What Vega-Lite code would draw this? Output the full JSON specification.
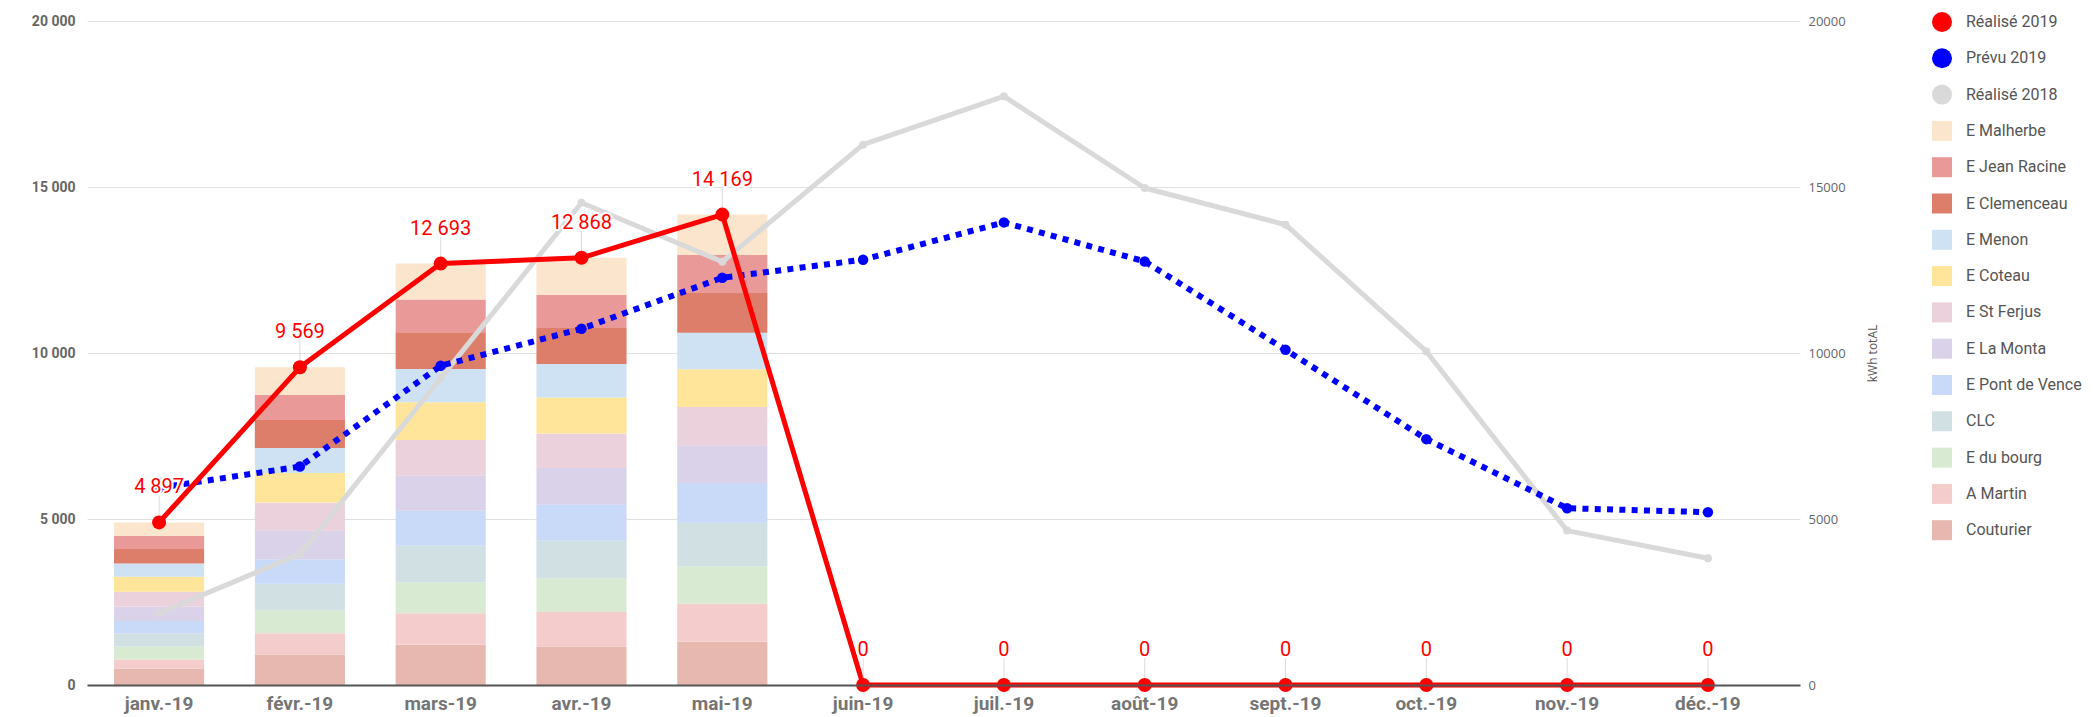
{
  "$schema": "https://vega.github.io/schema/vega-lite/v6.json",
  "width": 1713,
  "height": 664,
  "autosize": {"type": "none"},
  "padding": {"left": 87, "top": 21, "right": 293, "bottom": 32},
  "background": "white",
  "config": {
    "font": "Roboto",
    "view": {"stroke": null},
    "locale": {"number": {"decimal": ",", "thousands": "\u00a0", "grouping": [3], "currency": ["", "\u00a0€"]}},
    "axis": {"ticks": false, "domain": false}
  },
  "datasets": {
    "barres": [
      {"mois": "janv.-19", "serie": "Couturier", "rang": 1, "valeur": 500},
      {"mois": "janv.-19", "serie": "A Martin", "rang": 2, "valeur": 269},
      {"mois": "janv.-19", "serie": "E du bourg", "rang": 3, "valeur": 392},
      {"mois": "janv.-19", "serie": "CLC", "rang": 4, "valeur": 392},
      {"mois": "janv.-19", "serie": "E Pont de Vence", "rang": 5, "valeur": 372},
      {"mois": "janv.-19", "serie": "E La Monta", "rang": 6, "valeur": 442},
      {"mois": "janv.-19", "serie": "E St Ferjus", "rang": 7, "valeur": 442},
      {"mois": "janv.-19", "serie": "E Coteau", "rang": 8, "valeur": 452},
      {"mois": "janv.-19", "serie": "E Menon", "rang": 9, "valeur": 402},
      {"mois": "janv.-19", "serie": "E Clemenceau", "rang": 10, "valeur": 432},
      {"mois": "janv.-19", "serie": "E Jean Racine", "rang": 11, "valeur": 402},
      {"mois": "janv.-19", "serie": "E Malherbe", "rang": 12, "valeur": 400},
      {"mois": "févr.-19", "serie": "Couturier", "rang": 1, "valeur": 917},
      {"mois": "févr.-19", "serie": "A Martin", "rang": 2, "valeur": 643},
      {"mois": "févr.-19", "serie": "E du bourg", "rang": 3, "valeur": 693},
      {"mois": "févr.-19", "serie": "CLC", "rang": 4, "valeur": 794},
      {"mois": "févr.-19", "serie": "E Pont de Vence", "rang": 5, "valeur": 744},
      {"mois": "févr.-19", "serie": "E La Monta", "rang": 6, "valeur": 854},
      {"mois": "févr.-19", "serie": "E St Ferjus", "rang": 7, "valeur": 854},
      {"mois": "févr.-19", "serie": "E Coteau", "rang": 8, "valeur": 884},
      {"mois": "févr.-19", "serie": "E Menon", "rang": 9, "valeur": 754},
      {"mois": "févr.-19", "serie": "E Clemenceau", "rang": 10, "valeur": 844},
      {"mois": "févr.-19", "serie": "E Jean Racine", "rang": 11, "valeur": 754},
      {"mois": "févr.-19", "serie": "E Malherbe", "rang": 12, "valeur": 834},
      {"mois": "mars-19", "serie": "Couturier", "rang": 1, "valeur": 1216},
      {"mois": "mars-19", "serie": "A Martin", "rang": 2, "valeur": 945},
      {"mois": "mars-19", "serie": "E du bourg", "rang": 3, "valeur": 925},
      {"mois": "mars-19", "serie": "CLC", "rang": 4, "valeur": 1106},
      {"mois": "mars-19", "serie": "E Pont de Vence", "rang": 5, "valeur": 1055},
      {"mois": "mars-19", "serie": "E La Monta", "rang": 6, "valeur": 1055},
      {"mois": "mars-19", "serie": "E St Ferjus", "rang": 7, "valeur": 1075},
      {"mois": "mars-19", "serie": "E Coteau", "rang": 8, "valeur": 1136},
      {"mois": "mars-19", "serie": "E Menon", "rang": 9, "valeur": 1005},
      {"mois": "mars-19", "serie": "E Clemenceau", "rang": 10, "valeur": 1106},
      {"mois": "mars-19", "serie": "E Jean Racine", "rang": 11, "valeur": 986},
      {"mois": "mars-19", "serie": "E Malherbe", "rang": 12, "valeur": 1083},
      {"mois": "avr.-19", "serie": "Couturier", "rang": 1, "valeur": 1156},
      {"mois": "avr.-19", "serie": "A Martin", "rang": 2, "valeur": 1045},
      {"mois": "avr.-19", "serie": "E du bourg", "rang": 3, "valeur": 1005},
      {"mois": "avr.-19", "serie": "CLC", "rang": 4, "valeur": 1136},
      {"mois": "avr.-19", "serie": "E Pont de Vence", "rang": 5, "valeur": 1085},
      {"mois": "avr.-19", "serie": "E La Monta", "rang": 6, "valeur": 1106},
      {"mois": "avr.-19", "serie": "E St Ferjus", "rang": 7, "valeur": 1045},
      {"mois": "avr.-19", "serie": "E Coteau", "rang": 8, "valeur": 1085},
      {"mois": "avr.-19", "serie": "E Menon", "rang": 9, "valeur": 1005},
      {"mois": "avr.-19", "serie": "E Clemenceau", "rang": 10, "valeur": 1085},
      {"mois": "avr.-19", "serie": "E Jean Racine", "rang": 11, "valeur": 1000},
      {"mois": "avr.-19", "serie": "E Malherbe", "rang": 12, "valeur": 1115},
      {"mois": "mai-19", "serie": "Couturier", "rang": 1, "valeur": 1300},
      {"mois": "mai-19", "serie": "A Martin", "rang": 2, "valeur": 1145},
      {"mois": "mai-19", "serie": "E du bourg", "rang": 3, "valeur": 1130},
      {"mois": "mai-19", "serie": "CLC", "rang": 4, "valeur": 1313},
      {"mois": "mai-19", "serie": "E Pont de Vence", "rang": 5, "valeur": 1197},
      {"mois": "mai-19", "serie": "E La Monta", "rang": 6, "valeur": 1140},
      {"mois": "mai-19", "serie": "E St Ferjus", "rang": 7, "valeur": 1145},
      {"mois": "mai-19", "serie": "E Coteau", "rang": 8, "valeur": 1140},
      {"mois": "mai-19", "serie": "E Menon", "rang": 9, "valeur": 1098},
      {"mois": "mai-19", "serie": "E Clemenceau", "rang": 10, "valeur": 1199},
      {"mois": "mai-19", "serie": "E Jean Racine", "rang": 11, "valeur": 1144},
      {"mois": "mai-19", "serie": "E Malherbe", "rang": 12, "valeur": 1218}
    ],
    "courbes": [
      {"mois": "janv.-19", "serie": "Réalisé 2018", "valeur": 2161},
      {"mois": "févr.-19", "serie": "Réalisé 2018", "valeur": 3948},
      {"mois": "mars-19", "serie": "Réalisé 2018", "valeur": 9244},
      {"mois": "avr.-19", "serie": "Réalisé 2018", "valeur": 14527},
      {"mois": "mai-19", "serie": "Réalisé 2018", "valeur": 12749},
      {"mois": "juin-19", "serie": "Réalisé 2018", "valeur": 16276},
      {"mois": "juil.-19", "serie": "Réalisé 2018", "valeur": 17732},
      {"mois": "août-19", "serie": "Réalisé 2018", "valeur": 14970},
      {"mois": "sept.-19", "serie": "Réalisé 2018", "valeur": 13864},
      {"mois": "oct.-19", "serie": "Réalisé 2018", "valeur": 10046},
      {"mois": "nov.-19", "serie": "Réalisé 2018", "valeur": 4651},
      {"mois": "déc.-19", "serie": "Réalisé 2018", "valeur": 3819},
      {"mois": "janv.-19", "serie": "Prévu 2019", "valeur": 5940},
      {"mois": "févr.-19", "serie": "Prévu 2019", "valeur": 6580},
      {"mois": "mars-19", "serie": "Prévu 2019", "valeur": 9615},
      {"mois": "avr.-19", "serie": "Prévu 2019", "valeur": 10730},
      {"mois": "mai-19", "serie": "Prévu 2019", "valeur": 12267},
      {"mois": "juin-19", "serie": "Prévu 2019", "valeur": 12810},
      {"mois": "juil.-19", "serie": "Prévu 2019", "valeur": 13934},
      {"mois": "août-19", "serie": "Prévu 2019", "valeur": 12758},
      {"mois": "sept.-19", "serie": "Prévu 2019", "valeur": 10097},
      {"mois": "oct.-19", "serie": "Prévu 2019", "valeur": 7405},
      {"mois": "nov.-19", "serie": "Prévu 2019", "valeur": 5325},
      {"mois": "déc.-19", "serie": "Prévu 2019", "valeur": 5205},
      {"mois": "janv.-19", "serie": "Réalisé 2019", "valeur": 4897},
      {"mois": "févr.-19", "serie": "Réalisé 2019", "valeur": 9569},
      {"mois": "mars-19", "serie": "Réalisé 2019", "valeur": 12693},
      {"mois": "avr.-19", "serie": "Réalisé 2019", "valeur": 12868},
      {"mois": "mai-19", "serie": "Réalisé 2019", "valeur": 14169},
      {"mois": "juin-19", "serie": "Réalisé 2019", "valeur": 0},
      {"mois": "juil.-19", "serie": "Réalisé 2019", "valeur": 0},
      {"mois": "août-19", "serie": "Réalisé 2019", "valeur": 0},
      {"mois": "sept.-19", "serie": "Réalisé 2019", "valeur": 0},
      {"mois": "oct.-19", "serie": "Réalisé 2019", "valeur": 0},
      {"mois": "nov.-19", "serie": "Réalisé 2019", "valeur": 0},
      {"mois": "déc.-19", "serie": "Réalisé 2019", "valeur": 0}
    ]
  },
  "layer": [
    {
      "data": {"name": "barres"},
      "mark": {"type": "bar"},
      "encoding": {
        "x": {
          "field": "mois", "type": "ordinal",
          "sort": ["janv.-19", "févr.-19", "mars-19", "avr.-19", "mai-19", "juin-19", "juil.-19", "août-19", "sept.-19", "oct.-19", "nov.-19", "déc.-19"],
          "scale": {"paddingInner": 0.36, "paddingOuter": 0.263, "align": 0.365},
          "axis": {"title": null, "labelAngle": 0, "labelFont": "Roboto", "labelFontSize": 19, "labelFontWeight": "bold", "labelColor": "#757575", "labelPadding": 9, "domain": true, "domainColor": "#555555", "domainWidth": 2, "ticks": false, "zindex": 1}
        },
        "y": {
          "field": "valeur", "type": "quantitative", "stack": "zero",
          "scale": {"domain": [0, 20000], "nice": false},
          "axis": {"title": null, "values": [0, 5000, 10000, 15000, 20000], "format": ",d", "labelFont": "Roboto", "labelFontSize": 14, "labelFontWeight": "bold", "labelColor": "#666666", "labelPadding": 12, "grid": true, "gridColor": "#e0e0e0", "gridWidth": 1}
        },
        "color": {
          "field": "serie", "type": "nominal",
          "scale": {
            "domain": ["Réalisé 2019", "Prévu 2019", "Réalisé 2018", "E Malherbe", "E Jean Racine", "E Clemenceau", "E Menon", "E Coteau", "E St Ferjus", "E La Monta", "E Pont de Vence", "CLC", "E du bourg", "A Martin", "Couturier"],
            "range": ["#ff0000", "#0000ff", "#d9d9d9", "#fce5cd", "#ea9999", "#dd7e6b", "#cfe2f3", "#ffe599", "#ead1dc", "#d9d2e9", "#c9daf8", "#d0e0e3", "#d9ead3", "#f4cccc", "#e6b8af"]
          },
          "legend": {"orient": "none", "legendX": 1845, "legendY": -9, "title": null, "padding": 0, "symbolSize": 400, "labelFontSize": 16, "labelFont": "Roboto", "labelColor": "#555555", "rowPadding": 16.3, "labelOffset": 14, "symbolStrokeWidth": 0, "symbolOpacity": 1, "labelLimit": 250, "direction": "vertical"}
        },
        "order": {"field": "rang", "type": "quantitative", "sort": "ascending"}
      }
    },
    {
      "data": {"name": "courbes"},
      "encoding": {
        "x": {
          "field": "mois", "type": "ordinal",
          "sort": ["janv.-19", "févr.-19", "mars-19", "avr.-19", "mai-19", "juin-19", "juil.-19", "août-19", "sept.-19", "oct.-19", "nov.-19", "déc.-19"],
          "axis": {"title": null, "labelAngle": 0, "labelFont": "Roboto", "labelFontSize": 19, "labelFontWeight": "bold", "labelColor": "#757575", "labelPadding": 9, "domain": true, "domainColor": "#555555", "domainWidth": 2, "ticks": false, "zindex": 1}
        },
        "y": {
          "field": "valeur", "type": "quantitative",
          "scale": {"domain": [0, 20000], "nice": false},
          "axis": {"orient": "right", "title": "kWh totAL", "values": [0, 5000, 10000, 15000, 20000], "format": "d", "grid": false, "labelFont": "Open Sans", "labelFontSize": 13, "labelColor": "#666666", "labelPadding": 8, "titleFont": "Open Sans", "titleFontSize": 12, "titleFontWeight": "normal", "titleColor": "#555555", "titleAngle": 270, "titlePadding": 34}
        }
      },
      "layer": [
        {
          "transform": [{"filter": "datum.serie === 'Réalisé 2018'"}],
          "mark": {"type": "line", "color": "#d9d9d9", "strokeWidth": 5, "strokeJoin": "round"}
        },
        {
          "transform": [{"filter": "datum.serie === 'Prévu 2019'"}],
          "mark": {"type": "line", "color": "#0000ff", "strokeWidth": 6, "strokeDash": [6, 6.3], "strokeCap": "butt"}
        },
        {
          "transform": [{"filter": "datum.serie === 'Réalisé 2019'"}],
          "mark": {"type": "line", "color": "#ff0000", "strokeWidth": 5, "strokeJoin": "round"}
        },
        {
          "transform": [{"filter": "datum.serie === 'Réalisé 2019'"}],
          "mark": {"type": "tick", "orient": "vertical", "size": 26, "thickness": 1, "yOffset": -14, "color": "#cccccc"}
        },
        {
          "transform": [{"filter": "datum.serie === 'Réalisé 2018'"}],
          "mark": {"type": "point", "filled": true, "opacity": 1, "size": 64},
          "encoding": {
            "color": {"field": "serie", "type": "nominal", "legend": {"orient": "none", "legendX": 1845, "legendY": -9, "title": null, "padding": 0, "symbolSize": 400, "labelFontSize": 16, "labelFont": "Roboto", "labelColor": "#555555", "rowPadding": 16.3, "labelOffset": 14, "symbolStrokeWidth": 0, "symbolOpacity": 1, "labelLimit": 250, "direction": "vertical"}},
            "shape": {"field": "serie", "type": "nominal",
              "scale": {
                "domain": ["Réalisé 2019", "Prévu 2019", "Réalisé 2018", "E Malherbe", "E Jean Racine", "E Clemenceau", "E Menon", "E Coteau", "E St Ferjus", "E La Monta", "E Pont de Vence", "CLC", "E du bourg", "A Martin", "Couturier"],
                "range": ["circle", "circle", "circle", "square", "square", "square", "square", "square", "square", "square", "square", "square", "square", "square", "square"]
              },
              "legend": {"orient": "none", "legendX": 1845, "legendY": -9, "title": null, "padding": 0, "symbolSize": 400, "labelFontSize": 16, "labelFont": "Roboto", "labelColor": "#555555", "rowPadding": 16.3, "labelOffset": 14, "symbolStrokeWidth": 0, "symbolOpacity": 1, "labelLimit": 250, "direction": "vertical"}}
          }
        },
        {
          "transform": [{"filter": "datum.serie === 'Prévu 2019'"}],
          "mark": {"type": "point", "filled": true, "opacity": 1, "size": 110},
          "encoding": {
            "color": {"field": "serie", "type": "nominal"},
            "shape": {"field": "serie", "type": "nominal"}
          }
        },
        {
          "transform": [{"filter": "datum.serie === 'Réalisé 2019'"}],
          "mark": {"type": "point", "filled": true, "opacity": 1, "size": 196},
          "encoding": {
            "color": {"field": "serie", "type": "nominal"},
            "shape": {"field": "serie", "type": "nominal"}
          }
        },
        {
          "transform": [{"filter": "datum.serie === 'Réalisé 2019'"}],
          "mark": {"type": "text", "dy": -29, "baseline": "alphabetic", "fontSize": 20, "font": "Roboto", "fill": "white", "stroke": "white", "strokeWidth": 4, "strokeJoin": "round"},
          "encoding": {"text": {"field": "valeur", "type": "quantitative", "format": ",d"}}
        },
        {
          "transform": [{"filter": "datum.serie === 'Réalisé 2019'"}],
          "mark": {"type": "text", "dy": -29, "baseline": "alphabetic", "fontSize": 20, "font": "Roboto", "fill": "#ff0000"},
          "encoding": {"text": {"field": "valeur", "type": "quantitative", "format": ",d"}}
        }
      ]
    }
  ],
  "resolve": {"scale": {"y": "independent"}}
}
